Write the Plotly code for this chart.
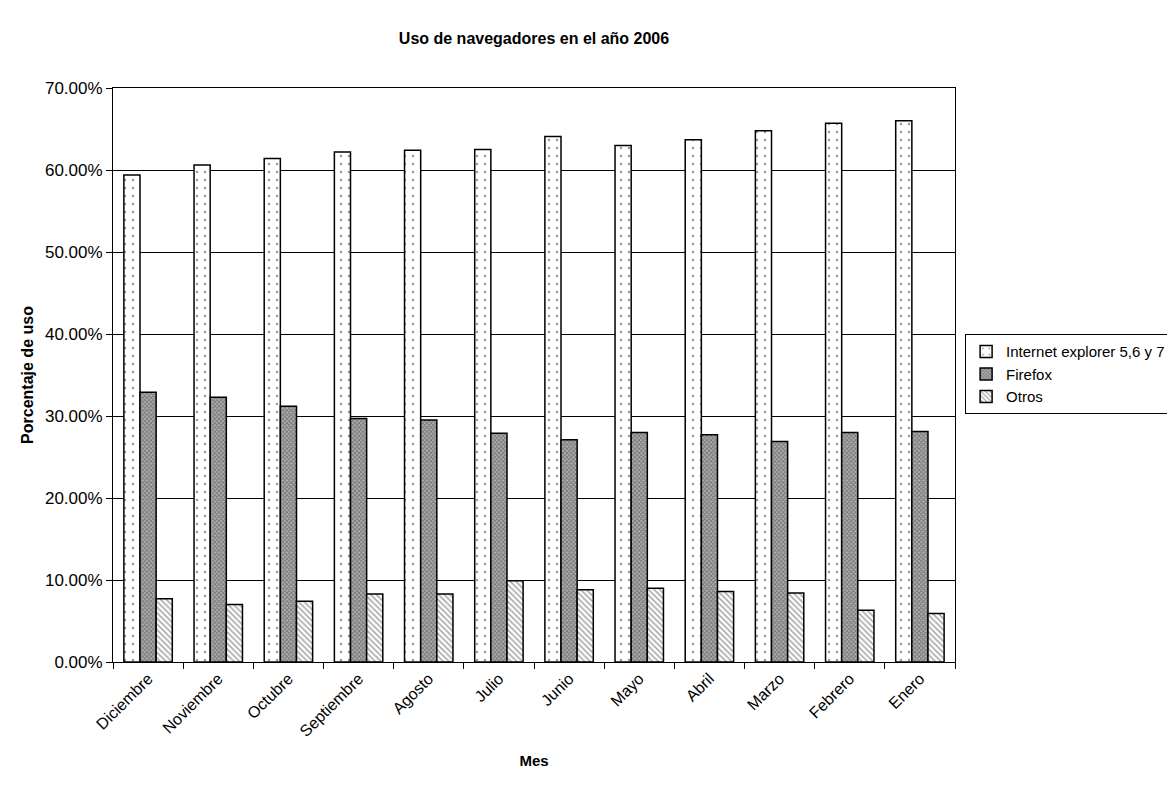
import plotly.graph_objects as go

meses = ["Diciembre", "Noviembre", "Octubre", "Septiembre", "Agosto", "Julio",
         "Junio", "Mayo", "Abril", "Marzo", "Febrero", "Enero"]
ie = [0.594, 0.606, 0.614, 0.622, 0.624, 0.625, 0.641, 0.630, 0.637, 0.648, 0.657, 0.660]
firefox = [0.329, 0.323, 0.312, 0.297, 0.295, 0.279, 0.271, 0.280, 0.277, 0.269, 0.280, 0.281]
otros = [0.077, 0.070, 0.074, 0.083, 0.083, 0.099, 0.088, 0.090, 0.086, 0.084, 0.063, 0.059]

FONT = "Liberation Sans, Arial, sans-serif"

fig = go.Figure()
fig.add_trace(go.Bar(
    x=meses, y=ie, name="Internet explorer 5,6 y 7",
    marker=dict(color="white", line=dict(color="black", width=1.5),
                pattern=dict(shape=".", fgcolor="#333333", bgcolor="white", size=8, solidity=0.08)),
))
fig.add_trace(go.Bar(
    x=meses, y=firefox, name="Firefox",
    marker=dict(color="#909090", line=dict(color="black", width=1.5),
                pattern=dict(shape="x", fgcolor="#3a3a3a", bgcolor="#b0b0b0", size=3, solidity=0.5)),
))
fig.add_trace(go.Bar(
    x=meses, y=otros, name="Otros",
    marker=dict(color="white", line=dict(color="black", width=1.5),
                pattern=dict(shape="\\", fgcolor="#555555", bgcolor="white", size=4, solidity=0.4)),
))

fig.update_layout(
    width=1175, height=787,
    paper_bgcolor="white", plot_bgcolor="white",
    font=dict(family=FONT, size=16, color="black"),
    barmode="group", bargap=0.31, bargroupgap=0,
    margin=dict(l=105, r=228, t=80, b=133, autoexpand=False),
    title=dict(text="<b>Uso de navegadores en el año 2006</b>", x=0.5, xref="paper",
               y=0.962, yanchor="middle", font=dict(size=16, family=FONT)),
    legend=dict(x=1.012, xanchor="left", y=0.571, yanchor="top",
                bordercolor="black", borderwidth=1, bgcolor="white",
                font=dict(size=15, family=FONT), tracegroupgap=0, itemwidth=30),
    xaxis=dict(
        title=dict(text="<b>Mes</b>", font=dict(size=15, family=FONT), standoff=16),
        tickangle=-45, showline=True, linecolor="black", linewidth=1, mirror=True,
        ticks="outside", tickson="boundaries", ticklen=6, tickcolor="black",
        showgrid=False, tickfont=dict(size=16),
    ),
    yaxis=dict(
        title=dict(text="<b>Porcentaje de uso</b>", font=dict(size=16, family=FONT), standoff=7),
        range=[0, 0.70], dtick=0.10, tickformat=".2%",
        showline=True, linecolor="black", linewidth=1, mirror=True,
        ticks="outside", ticklen=6, tickcolor="black", tickfont=dict(size=17),
        showgrid=True, gridcolor="black", gridwidth=1, zeroline=False,
    ),
)

fig.write_html("out.html")
